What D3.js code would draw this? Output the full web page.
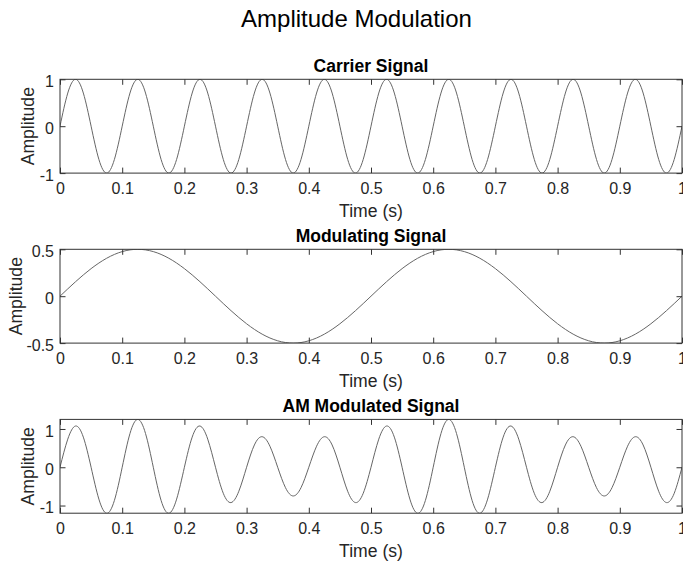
<!DOCTYPE html>
<html>
<head>
<meta charset="utf-8">
<script src="https://cdn.jsdelivr.net/npm/d3@7"></script>
<style>
  html, body { margin: 0; padding: 0; background: #fff; }
  svg { display: block; }
  text { font-family: "Liberation Sans", Arial, Helvetica, sans-serif; fill: #262626; }
</style>
</head>
<body>
<svg id="chart" width="683" height="562"></svg>
<script>
// ---- data ----
const mainTitle = "Amplitude Modulation";
const subTitles = ["Carrier Signal", "Modulating Signal", "AM Modulated Signal"];
const xLabel = "Time (s)";
const yLabel = "Amplitude";

const xTicks = [0, 0.1, 0.2, 0.3, 0.4, 0.5, 0.6, 0.7, 0.8, 0.9, 1];
const xTickLabels = ["0", "0.1", "0.2", "0.3", "0.4", "0.5", "0.6", "0.7", "0.8", "0.9", "1"];

const yTicksCarrier = [-1, 0, 1];
const yTickLabelsCarrier = ["-1", "0", "1"];
const yTicksMod = [-0.5, 0, 0.5];
const yTickLabelsMod = ["-0.5", "0", "0.5"];
const yTicksAM = [-1, 0, 1];
const yTickLabelsAM = ["-1", "0", "1"];

const yDomainCarrier = [-1, 1];
const yDomainMod = [-0.5, 0.5];
const yDomainAM = [-1.2, 1.25];

const time = [
  0, 0.0125, 0.025, 0.0375, 0.05, 0.0625, 0.075, 0.0875,
  0.1, 0.1125, 0.125, 0.1375, 0.15, 0.1625, 0.175, 0.1875,
  0.2, 0.2125, 0.225, 0.2375, 0.25, 0.2625, 0.275, 0.2875,
  0.3, 0.3125, 0.325, 0.3375, 0.35, 0.3625, 0.375, 0.3875,
  0.4, 0.4125, 0.425, 0.4375, 0.45, 0.4625, 0.475, 0.4875,
  0.5, 0.5125, 0.525, 0.5375, 0.55, 0.5625, 0.575, 0.5875,
  0.6, 0.6125, 0.625, 0.6375, 0.65, 0.6625, 0.675, 0.6875,
  0.7, 0.7125, 0.725, 0.7375, 0.75, 0.7625, 0.775, 0.7875,
  0.8, 0.8125, 0.825, 0.8375, 0.85, 0.8625, 0.875, 0.8875,
  0.9, 0.9125, 0.925, 0.9375, 0.95, 0.9625, 0.975, 0.9875,
  1
];

const carrier = [
  0, 0.7071, 1, 0.7071, 0, -0.7071, -1, -0.7071,
  0, 0.7071, 1, 0.7071, 0, -0.7071, -1, -0.7071,
  0, 0.7071, 1, 0.7071, 0, -0.7071, -1, -0.7071,
  0, 0.7071, 1, 0.7071, 0, -0.7071, -1, -0.7071,
  0, 0.7071, 1, 0.7071, 0, -0.7071, -1, -0.7071,
  0, 0.7071, 1, 0.7071, 0, -0.7071, -1, -0.7071,
  0, 0.7071, 1, 0.7071, 0, -0.7071, -1, -0.7071,
  0, 0.7071, 1, 0.7071, 0, -0.7071, -1, -0.7071,
  0, 0.7071, 1, 0.7071, 0, -0.7071, -1, -0.7071,
  0, 0.7071, 1, 0.7071, 0, -0.7071, -1, -0.7071,
  0
];

const modulating = [
  0, 0.0782, 0.1545, 0.2270, 0.2939, 0.3536, 0.4045, 0.4455,
  0.4755, 0.4938, 0.5, 0.4938, 0.4755, 0.4455, 0.4045, 0.3536,
  0.2939, 0.2270, 0.1545, 0.0782, 0, -0.0782, -0.1545, -0.2270,
  -0.2939, -0.3536, -0.4045, -0.4455, -0.4755, -0.4938, -0.5, -0.4938,
  -0.4755, -0.4455, -0.4045, -0.3536, -0.2939, -0.2270, -0.1545, -0.0782,
  0, 0.0782, 0.1545, 0.2270, 0.2939, 0.3536, 0.4045, 0.4455,
  0.4755, 0.4938, 0.5, 0.4938, 0.4755, 0.4455, 0.4045, 0.3536,
  0.2939, 0.2270, 0.1545, 0.0782, 0, -0.0782, -0.1545, -0.2270,
  -0.2939, -0.3536, -0.4045, -0.4455, -0.4755, -0.4938, -0.5, -0.4938,
  -0.4755, -0.4455, -0.4045, -0.3536, -0.2939, -0.2270, -0.1545, -0.0782,
  0
];

const amSignal = [
  0, 0.7348, 1.0773, 0.7874, 0, -0.8321, -1.2023, -0.8646,
  0, 0.8817, 1.25, 0.8817, 0, -0.8646, -1.2023, -0.8321,
  0, 0.7874, 1.0773, 0.7348, 0, -0.6795, -0.9227, -0.6268,
  0, 0.5821, 0.7977, 0.5496, 0, -0.5325, -0.75, -0.5325,
  0, 0.5496, 0.7977, 0.5821, 0, -0.6268, -0.9227, -0.6795,
  0, 0.7348, 1.0773, 0.7874, 0, -0.8321, -1.2023, -0.8646,
  0, 0.8817, 1.25, 0.8817, 0, -0.8646, -1.2023, -0.8321,
  0, 0.7874, 1.0773, 0.7348, 0, -0.6795, -0.9227, -0.6268,
  0, 0.5821, 0.7977, 0.5496, 0, -0.5325, -0.75, -0.5325,
  0, 0.5496, 0.7977, 0.5821, 0, -0.6268, -0.9227, -0.6795,
  0
];

// ---- layout ----
const svg = d3.select("#chart");
const axLeft = 60, axRight = 682;
const axTops = [79.3, 249.3, 419.4];
const axHeight = 93.8;
const tickLen = 5.5;
const ylabelX = [34, 21.7, 34];

svg.append("text")
  .attr("x", 356.5).attr("y", 27)
  .attr("text-anchor", "middle")
  .style("font-size", "24px")
  .style("fill", "#000")
  .text(mainTitle);

const panels = [
  { values: carrier, yDomain: yDomainCarrier, yTicks: yTicksCarrier, yTickLabels: yTickLabelsCarrier },
  { values: modulating, yDomain: yDomainMod, yTicks: yTicksMod, yTickLabels: yTickLabelsMod },
  { values: amSignal, yDomain: yDomainAM, yTicks: yTicksAM, yTickLabels: yTickLabelsAM }
];

const x = d3.scaleLinear().domain([0, 1]).range([axLeft, axRight]);

panels.forEach((p, i) => {
  const top = axTops[i], bottom = top + axHeight;
  const y = d3.scaleLinear().domain(p.yDomain).range([bottom, top]);
  const g = svg.append("g");

  const clipId = "clip" + i;
  svg.append("clipPath").attr("id", clipId)
    .append("rect").attr("x", axLeft).attr("y", top)
    .attr("width", axRight - axLeft).attr("height", axHeight);

  // curve
  const line = d3.line()
    .x((d, k) => x(time[k]))
    .y(d => y(d))
    .curve(d3.curveNatural);
  g.append("path")
    .datum(p.values)
    .attr("clip-path", `url(#${clipId})`)
    .attr("d", line)
    .attr("fill", "none")
    .attr("stroke", "#666666")
    .attr("stroke-width", 1);

  // axes (ticks inside)
  const xb = d3.axisBottom(x).tickValues(xTicks)
    .tickFormat((d, k) => xTickLabels[k])
    .tickSizeInner(-tickLen).tickSizeOuter(0).tickPadding(9.6);
  const gxb = g.append("g").attr("transform", `translate(0,${bottom})`).call(xb);

  const xt = d3.axisTop(x).tickValues(xTicks).tickFormat("")
    .tickSizeInner(-tickLen).tickSizeOuter(0);
  const gxt = g.append("g").attr("transform", `translate(0,${top})`).call(xt);

  const yl = d3.axisLeft(y).tickValues(p.yTicks)
    .tickFormat((d, k) => p.yTickLabels[k])
    .tickSizeInner(-tickLen).tickSizeOuter(0).tickPadding(6);
  const gyl = g.append("g").attr("transform", `translate(${axLeft},0)`).call(yl);

  const yr = d3.axisRight(y).tickValues(p.yTicks).tickFormat("")
    .tickSizeInner(-tickLen).tickSizeOuter(0);
  const gyr = g.append("g").attr("transform", `translate(${axRight},0)`).call(yr);

  [gxb, gxt, gyl, gyr].forEach(a => {
    a.select(".domain").remove();
    a.selectAll(".tick line").attr("stroke", "#333333").attr("stroke-width", 1);
    a.selectAll(".tick text")
      .style("font-size", "16px")
      .style("font-family", '"Liberation Sans", Arial, Helvetica, sans-serif')
      .attr("fill", "#262626");
  });
  gyl.selectAll(".tick text").attr("dy", "7.4px");

  // box
  g.append("rect")
    .attr("x", axLeft).attr("y", top)
    .attr("width", axRight - axLeft).attr("height", axHeight)
    .attr("fill", "none").attr("stroke", "#333333").attr("stroke-width", 1);

  // title
  g.append("text")
    .attr("x", (axLeft + axRight) / 2).attr("y", top - 7)
    .attr("text-anchor", "middle")
    .style("font-size", "17.5px").style("font-weight", "bold")
    .style("fill", "#000")
    .text(subTitles[i]);

  // x label
  g.append("text")
    .attr("x", (axLeft + axRight) / 2).attr("y", bottom + 44)
    .attr("text-anchor", "middle")
    .style("font-size", "17.6px")
    .text(xLabel);

  // y label
  g.append("text")
    .attr("transform", `translate(${ylabelX[i]},${(top + bottom) / 2}) rotate(-90)`)
    .attr("text-anchor", "middle")
    .style("font-size", "17.6px")
    .text(yLabel);
});
</script>
</body>
</html>
